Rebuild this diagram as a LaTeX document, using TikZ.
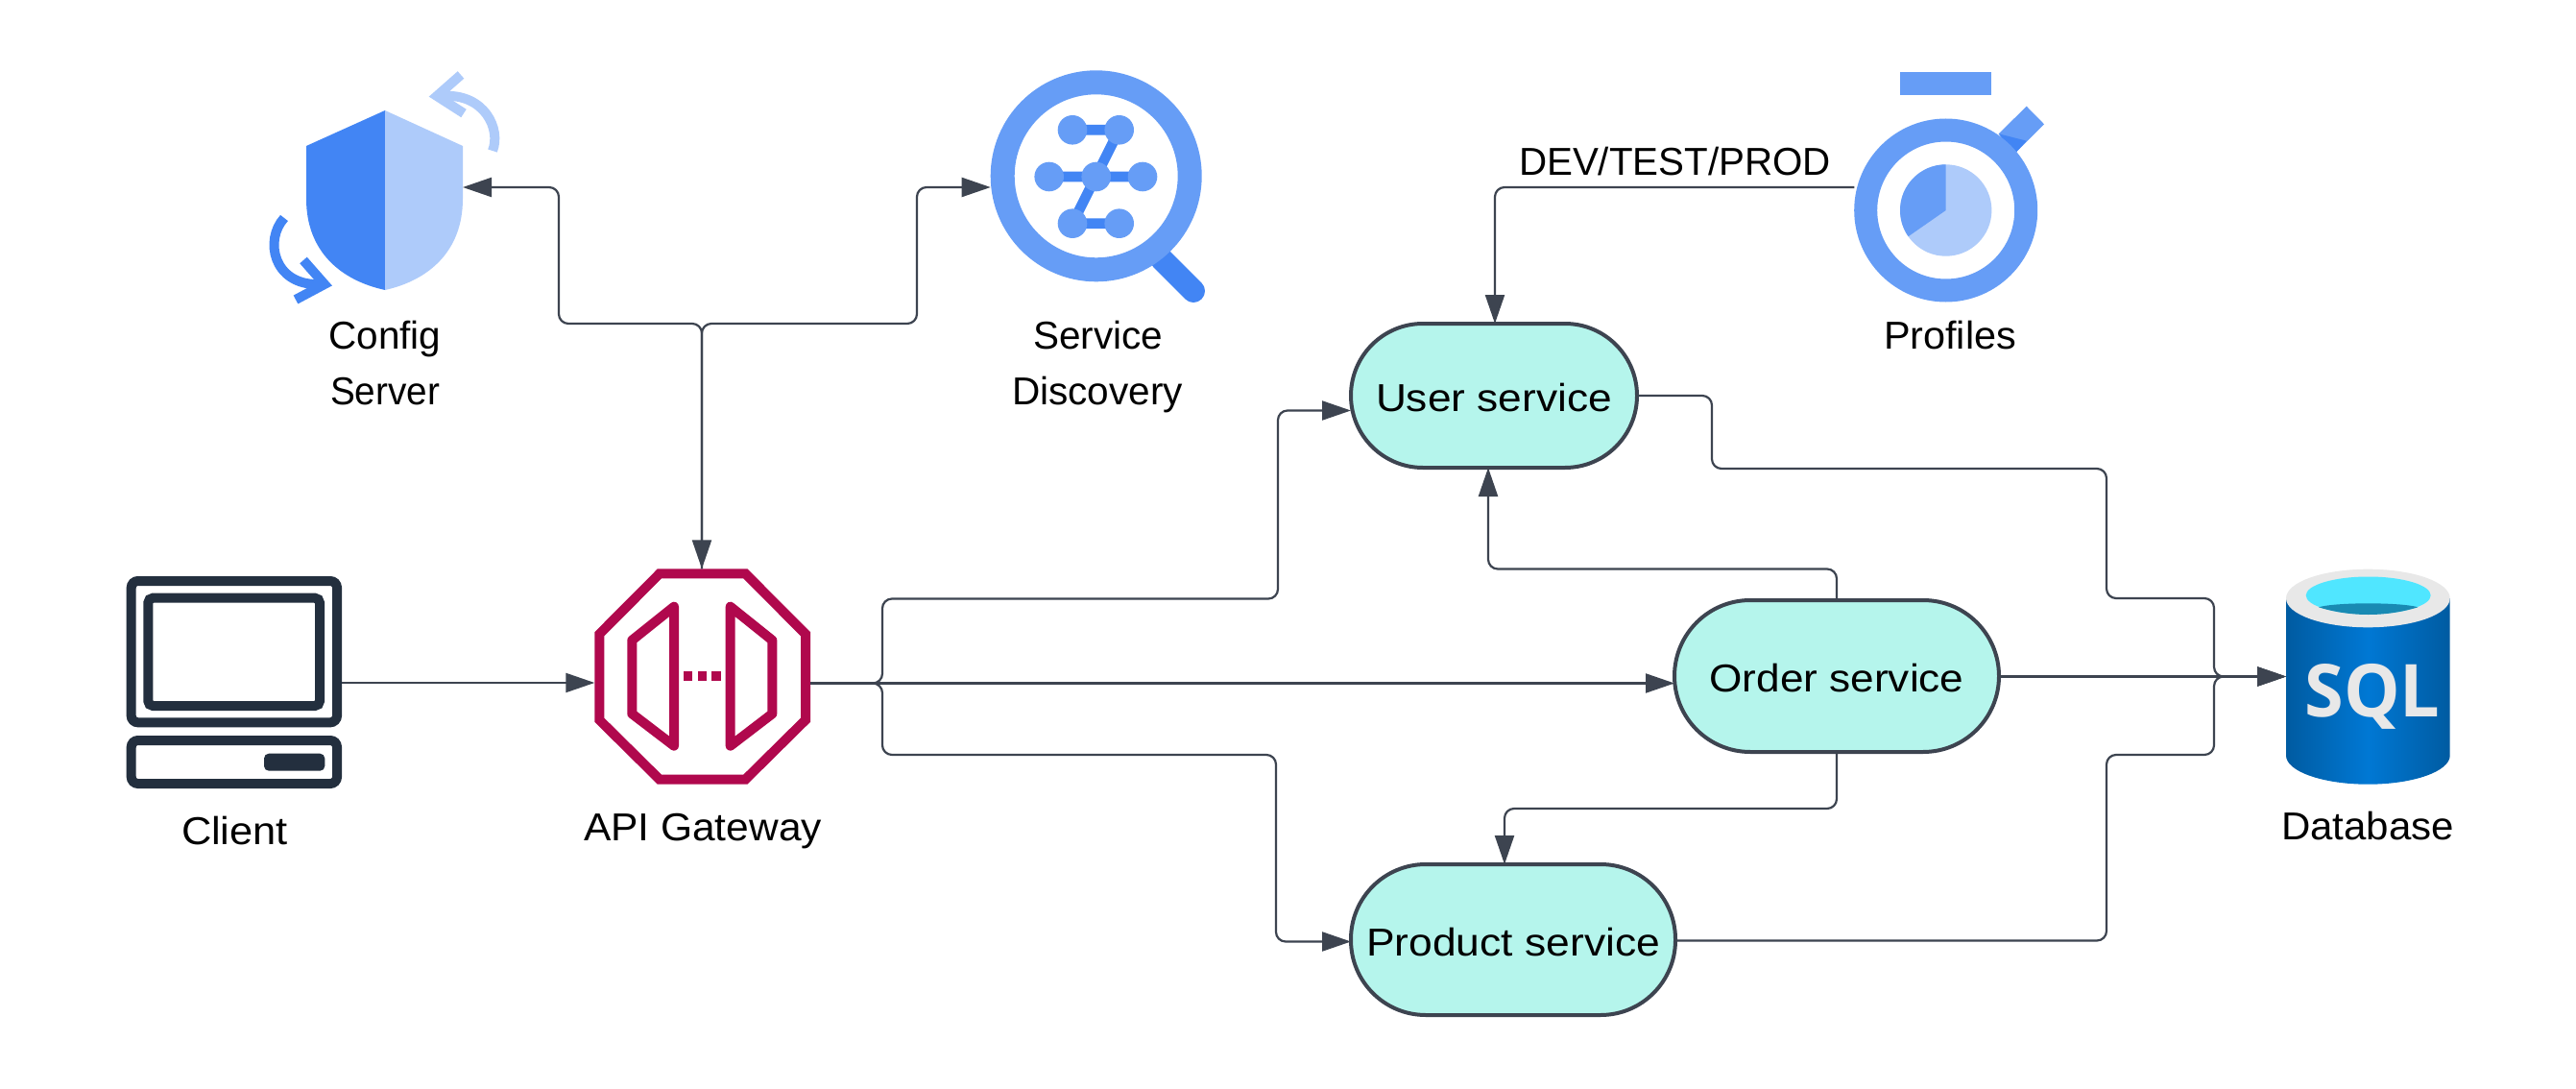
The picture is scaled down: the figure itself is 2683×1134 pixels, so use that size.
\documentclass[tikz,border=0pt]{standalone}
\usepackage{graphicx}
\usepackage{fontspec}
\setmainfont{Liberation Sans}
\newfontfamily\sqlfont{Open Sans}
\usetikzlibrary{arrows.meta}
\definecolor{gblue}{HTML}{4285F4}
\definecolor{gmid}{HTML}{669DF6}
\definecolor{glight}{HTML}{AECBFA}
\definecolor{awsdark}{HTML}{232F3E}
\definecolor{gatered}{HTML}{B0084D}
\definecolor{linec}{HTML}{3D4450}
\definecolor{pillfill}{HTML}{B5F5EC}
\definecolor{dbdark}{HTML}{005BA1}
\definecolor{dbmid}{HTML}{0078D4}
\definecolor{dbgrey}{HTML}{E8E8E8}
\definecolor{dbcyan}{HTML}{50E6FF}
\definecolor{dbwater}{HTML}{198AB3}
\newcommand{\fitw}[2]{\resizebox{#1pt}{\height}{#2}}
\tikzset{
  iconbox/.style={inner sep=0pt,outer sep=0pt,draw=none,fill=none},
  lbl/.style={anchor=base,inner sep=0pt,font=\fontsize{40.5}{48}\selectfont,text=black},
  pill/.style={draw=linec,line width=4pt,fill=pillfill,inner sep=0pt,outer sep=0pt,
     font=\fontsize{40.5}{48}\selectfont,text=black,text height=33pt,text depth=0pt},
  conn/.style={draw=linec,line width=2.2pt,rounded corners=10pt},
  tipped/.style={conn,-{Triangle[length=30pt,width=20pt]},fill=none},
  both/.style={conn,{Triangle[length=30pt,width=20pt]}-{Triangle[length=30pt,width=20pt]}},
  awsline/.style={draw=awsdark,line width=10pt,rounded corners=7pt},
  gate/.style={draw=gatered,line width=10pt,line join=round},
}
\begin{document}
\begin{tikzpicture}[x=1pt,y=-1pt]
\useasboundingbox (0,0) rectangle (2683,1134);
\fill[white] (0,0) rectangle (2683,1134);

% --- Config server icon
\fill[gblue] (401,115) -- (319,152) -- (319,207) .. controls (319,262) and (355,292) .. (401,302) -- cycle;
\fill[glight] (401,115) -- (482,152) -- (482,207) .. controls (482,262) and (446,292) .. (401,302) -- cycle;
\draw[glight,line width=10pt] (513,157) .. controls (522,135) and (505,97) .. (461,100);
\draw[glight,line width=10pt,miter limit=10] (480,78) -- (455,100) -- (483,118);
\draw[gblue,line width=10pt] (296,227) .. controls (275,250) and (285,296) .. (330,296);
\draw[gblue,line width=10pt,miter limit=10] (316,271) -- (338,296) -- (308,312);
\node[iconbox,minimum width=163pt,minimum height=187pt] (shield) at (400.5,208.5) {};

% --- Service discovery icon
\draw[gblue,line width=24pt,line cap=round] (1210,270) -- (1243,303);
\draw[gmid,line width=25pt,fill=white] (1141.7,183.3) circle (97.5);
\draw[gblue,line width=10.7pt] (1117,135.3) -- (1165.7,135.3) -- (1117,232.7) -- (1165.7,232.7) (1092.7,184) -- (1190,184);
\foreach \cx/\cy in {1117/135.3,1165.7/135.3,1092.7/184,1141.7/184,1190/184,1117/232.7,1165.7/232.7}
  \fill[gmid] (\cx,\cy) circle (15.3);
\node[iconbox,minimum width=220pt,minimum height=220pt] (discovery) at (1141.7,183.3) {};

% --- Profiles icon
\fill[gmid] (1979,75) rectangle (2074.3,99);
\fill[gmid] (2110.7,110.7) -- (2129,129.3) -- (2100,158.3) -- (2081.7,139.3) -- cycle;
\fill[gblue] (2081.7,139.3) -- (2110.7,146.7) -- (2100,158.3) -- (2090,150) -- cycle;
\draw[gmid,line width=24pt,fill=white] (2026.7,219) circle (83.5);
\fill[glight] (2026.7,219) circle (47.7);
\fill[gmid] (2026.7,219) -- ++(0,-47.7) arc[start angle=-90,end angle=-214.8,radius=47.7] -- cycle;
\node[iconbox,minimum width=190.6pt,minimum height=190.6pt] (profiles) at (2026.7,219) {};

% --- Client icon
\draw[awsline] (136.7,605) rectangle (351,752.3);
\draw[awsline,rounded corners=5pt] (154.3,622.7) rectangle (333,735);
\draw[awsline] (136.7,771) rectangle (351,816);
\fill[awsdark,rounded corners=5pt] (275,784.7) rectangle (338.3,802.7);
\node[iconbox,minimum width=224.3pt,minimum height=221pt] (client) at (243.85,710.5) {};

% --- API Gateway icon
\draw[gate,line join=miter] (687,597.3) -- (776.3,597.3) -- (839,660.3) -- (839,749.7) -- (776.3,811.7) -- (687,811.7) -- (624.3,749.7) -- (624.3,660.3) -- cycle;
\draw[gate] (702,631.7) -- (658.3,666.7) -- (658.3,743.3) -- (702,776.7) -- cycle;
\draw[gate] (760.7,631.7) -- (804.3,666.7) -- (804.3,743.3) -- (760.7,776.7) -- cycle;
\fill[gatered] (711.7,699.3) rectangle (721,709);
\fill[gatered] (726.7,699.3) rectangle (736,709);
\fill[gatered] (741.3,699.3) rectangle (751,709);
\node[iconbox,minimum width=224.7pt,minimum height=224.4pt] (gateway) at (731.65,704.5) {};

% --- Database icon
\shade[left color=dbdark,right color=dbdark,middle color=dbmid] (2381,623) -- (2381,786.7) arc[start angle=180,end angle=0,x radius=85.35,y radius=30] -- (2551.7,623) -- cycle;
\fill[dbgrey] (2466.35,623) ellipse [x radius=85.35,y radius=30.3];
\fill[dbcyan] (2466.7,620) ellipse [x radius=65,y radius=19.5];
\fill[dbwater] (2415,632.3) .. controls (2432,627) and (2501,627) .. (2518.3,632.3) .. controls (2503,637) and (2485,640) .. (2466.7,640) .. controls (2448,640) and (2430,637) .. (2415,632.3) -- cycle;
\node[inner sep=0pt,anchor=base,text=dbgrey,font=\fontsize{76}{90}\sqlfont\bfseries\selectfont] (sqltext) at (2471,746) {\fitw{141}{SQL}};
\node[iconbox,minimum width=170.7pt,minimum height=224pt] (db) at (2466.35,704.7) {};

% --- Service pills
\node[pill,minimum width=298pt,minimum height=150pt,rounded corners=75pt] (user) at (1556,412) {\fitw{246}{User service}};
\node[pill,minimum width=338pt,minimum height=158pt,rounded corners=79pt] (order) at (1913,704) {\fitw{265}{Order service}};
\node[pill,minimum width=338pt,minimum height=157pt,rounded corners=78pt] (product) at (1576,978.5) {\fitw{306}{Product service}};

% --- Labels
\node[lbl] (lconfig) at (401,363) {\fitw{117}{Config}};
\node[lbl] (lserver) at (401,421) {\fitw{114}{Server}};
\node[lbl] (lservice) at (1143.5,363) {\fitw{135}{Service}};
\node[lbl] (ldisc) at (1143,421) {\fitw{178}{Discovery}};
\node[lbl] (lprof) at (2031,363) {\fitw{138}{Profiles}};
\node[lbl] (lclient) at (244.5,879) {\fitw{111}{Client}};
\node[lbl] (lapi) at (732,875) {\fitw{248}{API Gateway}};
\node[lbl] (ldb) at (2466,874) {\fitw{180}{Database}};
\node[lbl] (lenv) at (1744.5,183) {\fitw{325}{DEV/TEST/PROD}};

% --- Connectors
\draw[tipped] (client.east |- 0,711) -- (gateway.west |- 0,711);
\draw[tipped] (gateway.east |- 0,711.5) -- (919,711.5) -- (919,623.5) -- (1331,623.5) -- (1331,427.5) -- (user.west |- 0,427.5);
\draw[tipped] (gateway.east |- 0,711.5) -- (order.west |- 0,711.5);
\draw[tipped] (gateway.east |- 0,711.5) -- (919,711.5) -- (919,786) -- (1329,786) -- (1329,980.5) -- (product.west |- 0,980.5);
\draw[tipped] (user.east |- 0,412) -- (1783,412) -- (1783,488) -- (2194,488) -- (2194,623) -- (2306,623) -- (2306,704.5) -- (db.west |- 0,704.5);
\draw[tipped] (order.east |- 0,704.5) -- (db.west |- 0,704.5);
\draw[tipped] (product.east |- 0,979.5) -- (2194,979.5) -- (2194,786) -- (2306,786) -- (2306,704.5) -- (db.west |- 0,704.5);
\draw[tipped] (order.north) -- (1913,592.5) -- (1550,592.5) -- (user.south -| 1550,0);
\draw[tipped] (order.south) -- (1913,842) -- (1567,842) -- (product.north -| 1567,0);
\draw[tipped] (profiles.west |- 0,195) -- (1557,195) -- (user.north -| 1557,0);
\draw[both] (shield.east |- 0,195) -- (582,195) -- (582,337) -- (731,337) -- (gateway.north -| 731,0);
\draw[tipped] (gateway.north -| 731,0) -- (731,337) -- (955,337) -- (955,195) -- (discovery.west |- 0,195);
\end{tikzpicture}
\end{document}
